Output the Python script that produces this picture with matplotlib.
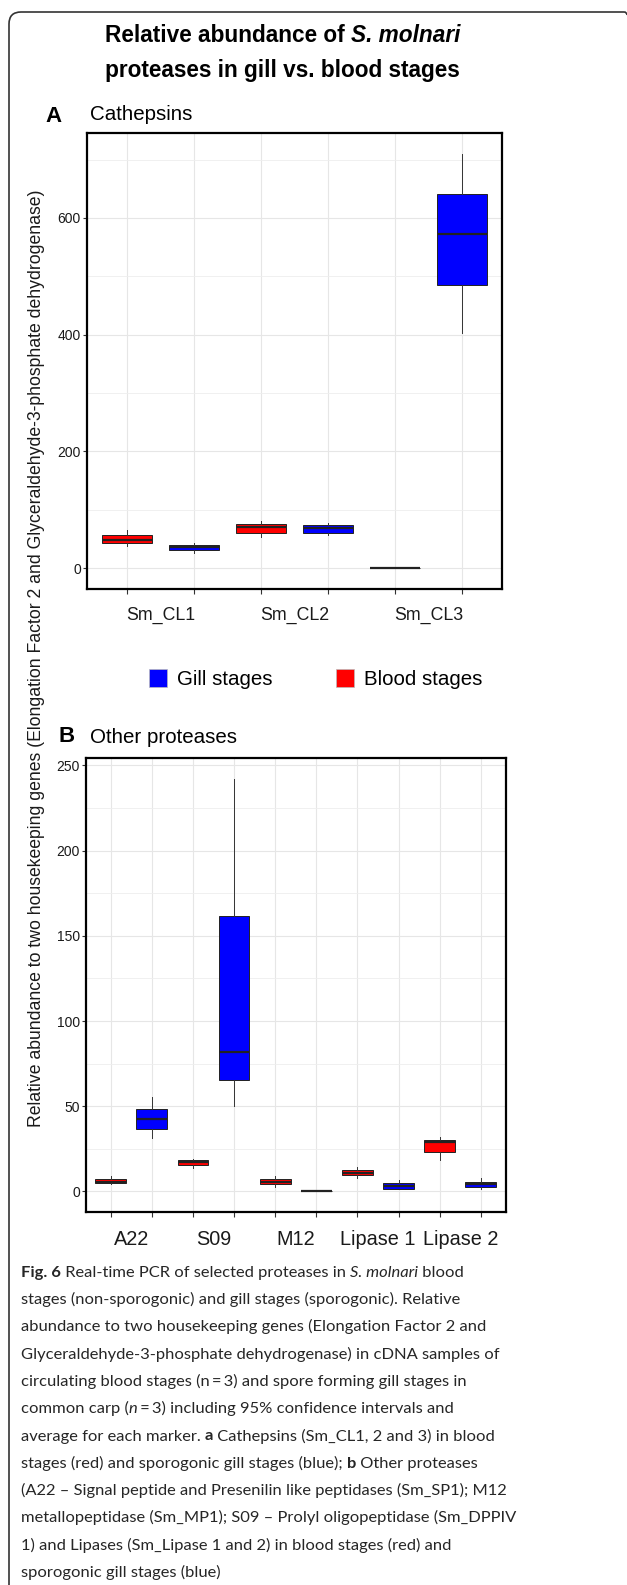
import matplotlib
matplotlib.use("Agg")
import matplotlib.pyplot as plt
from matplotlib.patches import Patch, PathPatch
from matplotlib.path import Path
from matplotlib.ticker import FixedLocator, NullFormatter, FixedFormatter

W, H, DPI = 627, 1585, 100

# ---------------- data ----------------
stages = ["Gill stages", "Blood stages"]
stage_colors = ["#0000FF", "#FF0000"]

cathepsins = ["Sm_CL1", "Sm_CL2", "Sm_CL3"]
cath_blood_whislo = [38.4, 54.4, 0.0]
cath_blood_q1 = [42.5, 61.2, 0.3]
cath_blood_med = [48.6, 70.8, 0.6]
cath_blood_q3 = [57.1, 75.8, 0.9]
cath_blood_whishi = [65.0, 80.4, 1.2]
cath_gill_whislo = [27.0, 56.6, 402.4]
cath_gill_q1 = [30.5, 61.2, 485.2]
cath_gill_med = [35.6, 69.7, 572.4]
cath_gill_q3 = [40.0, 73.6, 640.4]
cath_gill_whishi = [42.5, 77.0, 710.0]
cath_yticks = [0, 200, 400, 600]

others = ["A22", "S09", "M12", "Lipase 1", "Lipase 2"]
oth_blood_whislo = [4.5, 13.5, 2.7, 7.8, 18.7]
oth_blood_q1 = [4.8, 15.2, 4.1, 9.4, 23.2]
oth_blood_med = [5.8, 17.2, 5.7, 11.0, 28.8]
oth_blood_q3 = [7.0, 18.3, 7.0, 12.7, 30.0]
oth_blood_whishi = [8.8, 19.1, 9.0, 14.4, 32.0]
oth_gill_whislo = [31.2, 49.9, 0.0, 1.6, 1.2]
oth_gill_q1 = [36.6, 65.5, 0.1, 1.6, 2.5]
oth_gill_med = [42.7, 82.0, 0.2, 3.0, 4.5]
oth_gill_q3 = [48.5, 161.8, 0.3, 4.9, 5.7]
oth_gill_whishi = [55.4, 242.0, 0.4, 6.6, 7.6]
oth_yticks = [0, 50, 100, 150, 200, 250]

title_line1 = [("Relative abundance of ", "b"), ("S. molnari", "bi")]
title_line2 = [("proteases in gill vs. blood stages", "b")]
ylabel = ("Relative abundance to two housekeeping genes (Elongation Factor 2 "
          "and Glyceraldehyde-3-phosphate dehydrogenase)")

caption_lines = [
    [("Fig. 6", "b"), (" Real-time PCR of selected proteases in ", "r"), ("S. molnari", "i"), (" blood", "r")],
    [("stages (non-sporogonic) and gill stages (sporogonic). Relative", "r")],
    [("abundance to two housekeeping genes (Elongation Factor 2 and", "r")],
    [("Glyceraldehyde-3-phosphate dehydrogenase) in cDNA samples of", "r")],
    [("circulating blood stages (n\u2009=\u20093) and spore forming gill stages in", "r")],
    [("common carp (", "r"), ("n", "i"), ("\u2009=\u20093) including 95% confidence intervals and", "r")],
    [("average for each marker. ", "r"), ("a", "b"), (" Cathepsins (Sm_CL1, 2 and 3) in blood", "r")],
    [("stages (red) and sporogonic gill stages (blue); ", "r"), ("b", "b"), (" Other proteases", "r")],
    [("(A22 \u2013 Signal peptide and Presenilin like peptidases (Sm_SP1); M12", "r")],
    [("metallopeptidase (Sm_MP1); S09 \u2013 Prolyl oligopeptidase (Sm_DPPIV", "r")],
    [("1) and Lipases (Sm_Lipase 1 and 2) in blood stages (red) and", "r")],
    [("sporogonic gill stages (blue)", "r")],
]

# ---------------- figure ----------------
CHART_FONT = "Liberation Sans"
CAP_FONT = "Lato"
plt.rcParams["font.family"] = [CHART_FONT, "DejaVu Sans"]

fig = plt.figure(figsize=(W / DPI, H / DPI), dpi=DPI)
renderer = fig.canvas.get_renderer()


def fx(px):
    return px / W


def fy(py):
    return 1 - py / H


STYLE = {
    "r": dict(fontweight="normal", fontstyle="normal"),
    "b": dict(fontweight="bold", fontstyle="normal"),
    "i": dict(fontweight="normal", fontstyle="italic"),
    "bi": dict(fontweight="bold", fontstyle="italic"),
}


def run_width(s, **kw):
    t1 = fig.text(0, 0, "|" + s + "|", **kw)
    t2 = fig.text(0, 0, "||", **kw)
    w = t1.get_window_extent(renderer).width - t2.get_window_extent(renderer).width
    t1.remove()
    t2.remove()
    return w


def draw_runs(x_px, y_px, runs, align="left", **kw):
    widths = [run_width(s, **STYLE[st], **kw) for s, st in runs]
    total = sum(widths)
    x = x_px - (total / 2 if align == "center" else 0)
    for (s, st), w in zip(runs, widths):
        fig.text(fx(x), fy(y_px), s, ha="left", va="baseline", **STYLE[st], **kw)
        x += w


# outer frame: left and top edges with a rounded top-left corner
frame_path = Path(
    [(fx(9), fy(1600)), (fx(9), fy(24)), (fx(9), fy(12)), (fx(21), fy(12)),
     (fx(624), fy(12)), (fx(627), fy(12)), (fx(627), fy(15))],
    [Path.MOVETO, Path.LINETO, Path.CURVE3, Path.CURVE3, Path.LINETO,
     Path.CURVE3, Path.CURVE3])
fig.patches.append(PathPatch(frame_path, transform=fig.transFigure, facecolor="none",
                             edgecolor="#333333", linewidth=1.2))

# title
draw_runs(282.5, 41.5, title_line1, align="center", fontsize=16.3,
          family=[CHART_FONT], color="#000000")
draw_runs(282.5, 77.5, title_line2, align="center", fontsize=16.3,
          family=[CHART_FONT], color="#000000")

# panel labels
fig.text(fx(45), fy(122.5), "A", fontsize=16, fontweight="bold", ha="left", va="baseline")
fig.text(fx(90), fy(120.5), "Cathepsins", fontsize=14.8, ha="left", va="baseline")
fig.text(fx(58.5), fy(742.5), "B", fontsize=16, fontweight="bold", ha="left", va="baseline")
fig.text(fx(90), fy(743), "Other proteases", fontsize=14.8, ha="left", va="baseline")


def make_panel(rect_px, groups, bl, bq1, bmed, bq3, bhi, gl, gq1, gmed, gq3, ghi,
               yticks, minor_yticks, ylim, xlabel_size):
    l, t, r, b = rect_px
    ax = fig.add_axes([fx(l), fy(b), fx(r) - fx(l), fy(t) - fy(b)])
    stats, positions, colors = [], [], []
    for i in range(len(groups)):
        stats.append(dict(whislo=bl[i], q1=bq1[i], med=bmed[i], q3=bq3[i], whishi=bhi[i]))
        positions.append(2 * i + 1)
        colors.append(stage_colors[1])
        stats.append(dict(whislo=gl[i], q1=gq1[i], med=gmed[i], q3=gq3[i], whishi=ghi[i]))
        positions.append(2 * i + 2)
        colors.append(stage_colors[0])
    res = ax.bxp(stats, positions=positions, widths=0.75, patch_artist=True,
                 showfliers=False, showcaps=False,
                 boxprops=dict(edgecolor="#222222", linewidth=0.7),
                 medianprops=dict(color="#222222", linewidth=1.6),
                 whiskerprops=dict(color="#333333", linewidth=0.7))
    for patch, c in zip(res["boxes"], colors):
        patch.set_facecolor(c)
    n = len(positions)
    ax.set_xlim(0.4, n + 0.6)
    ax.set_ylim(*ylim)
    ax.set_axisbelow(True)
    ax.xaxis.set_major_locator(FixedLocator(positions))
    ax.xaxis.set_major_formatter(NullFormatter())
    ax.xaxis.set_minor_locator(FixedLocator([2 * i + 1.5 for i in range(len(groups))]))
    ax.xaxis.set_minor_formatter(FixedFormatter(groups))
    ax.tick_params(axis="x", which="major", length=3.5, width=0.8, color="#333333")
    ax.tick_params(axis="x", which="minor", length=0, pad=13, labelsize=xlabel_size,
                   labelcolor="#1a1a1a")
    ax.yaxis.set_major_locator(FixedLocator(yticks))
    ax.yaxis.set_minor_locator(FixedLocator(minor_yticks))
    ax.yaxis.set_minor_formatter(NullFormatter())
    ax.tick_params(axis="y", which="major", length=3, width=0.8, color="#333333",
                   pad=1.5, labelsize=10, labelcolor="#1a1a1a")
    ax.tick_params(axis="y", which="minor", length=0)
    ax.grid(True, which="major", color="#e6e6e6", linewidth=0.8)
    ax.grid(True, which="minor", axis="y", color="#eeeeee", linewidth=0.6)
    for sp in ax.spines.values():
        sp.set_linewidth(1.6)
        sp.set_color("#000000")
    return ax


make_panel((87, 133, 502, 589), cathepsins,
           cath_blood_whislo, cath_blood_q1, cath_blood_med, cath_blood_q3, cath_blood_whishi,
           cath_gill_whislo, cath_gill_q1, cath_gill_med, cath_gill_q3, cath_gill_whishi,
           cath_yticks, [100, 300, 500, 700], (-35.5, 745.5), 12.8)

make_panel((86, 758.5, 505.5, 1212), others,
           oth_blood_whislo, oth_blood_q1, oth_blood_med, oth_blood_q3, oth_blood_whishi,
           oth_gill_whislo, oth_gill_q1, oth_gill_med, oth_gill_q3, oth_gill_whishi,
           oth_yticks, [25, 75, 125, 175, 225], (-12.1, 254.1), 14.3)

# legend
handles = [Patch(facecolor=c, edgecolor="#bbbbbb", linewidth=0.5) for c in stage_colors]
fig.legend(handles, stages, loc="center", bbox_to_anchor=(fx(316), fy(679)), ncol=2,
           frameon=False, fontsize=14.8, handlelength=0.85, handleheight=0.95,
           handletextpad=0.5, columnspacing=3.1)

# y label (shared), size fitted to the span it covers
yl_target = 940.0
probe = fig.text(0, 0, ylabel, fontsize=10, rotation=90)
yl_size = 10 * yl_target / probe.get_window_extent(renderer).height
probe.remove()
fig.text(fx(36.5), fy(658), ylabel, fontsize=yl_size, rotation=90, ha="center",
         va="center", color="#1a1a1a")

# caption, size fitted to the width of its second line
cap_target = 437.0
w10 = run_width(caption_lines[1][0][0], fontsize=10, family=[CAP_FONT, "DejaVu Sans"])
cap_size = 10 * cap_target / w10
for i, runs in enumerate(caption_lines):
    draw_runs(21, 1276.7 + i * 27.3, runs, fontsize=cap_size,
              family=[CAP_FONT, "DejaVu Sans"], color="#262626")

fig.savefig("out.png", dpi=DPI)
